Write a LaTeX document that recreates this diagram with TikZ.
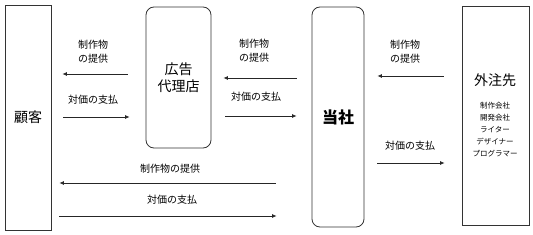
\documentclass[tikz,border=0pt]{standalone}
\usepackage{fontspec}
\newfontfamily\jpfont{Noto Sans CJK JP}
\usepackage{tikz}
\usetikzlibrary{arrows.meta}

\begin{document}
\begin{tikzpicture}[
    x=1pt, y=-1pt,
    party/.style={rectangle, draw=black!80, line width=0.8pt, inner sep=0pt, align=center, font=\jpfont\fontsize{14}{17}\selectfont},
    roundparty/.style={party, rounded corners=8pt},
    flowlabel/.style={inner sep=0pt, align=center, font=\jpfont\fontsize{10}{14}\selectfont},
    arrow/.style={-{Latex[length=4.5pt,width=4pt]}, line width=0.8pt, draw=black!85}
]
\useasboundingbox (0,0) rectangle (533,235);

% Parties
\node[party, minimum width=46pt, minimum height=225pt] (client) at (28,117.5) {顧客};
\node[roundparty, minimum width=65pt, minimum height=141pt] (agency) at (178.5,77.5) {広告\\代理店};
\node[roundparty, minimum width=52pt, minimum height=220pt, font=\jpfont\bfseries\fontsize{16}{19}\selectfont] (we) at (338,117) {当社};
\node[party, minimum width=67pt, minimum height=219pt] (vendor) at (495.5,115.5) {};
\node[inner sep=0pt, font=\jpfont\fontsize{14}{17}\selectfont] (vendor_title) at (495,80) {外注先};
\node[inner sep=0pt, align=center, font=\jpfont\fontsize{7.5}{12}\selectfont] (vendor_list) at (495,129.5) {制作会社\\開発会社\\ライター\\デザイナー\\プログラマー};

% Flow levels
\coordinate (r1) at (0,74);
\coordinate (r2) at (0,117);
\coordinate (r3) at (0,78);
\coordinate (r4) at (0,116);
\coordinate (r5) at (0,183);
\coordinate (r6) at (0,216);
\coordinate (r7) at (0,76);
\coordinate (r8) at (0,163);

% Labels
\node[flowlabel] (deliver_a) at (93,52) {制作物\\の提供};
\node[flowlabel] (pay_a) at (93,100) {対価の支払};
\node[flowlabel] (deliver_b) at (254,51) {制作物\\の提供};
\node[flowlabel] (pay_b) at (256,97) {対価の支払};
\node[flowlabel] (deliver_c) at (170,169) {制作物の提供};
\node[flowlabel] (pay_c) at (172,200) {対価の支払};
\node[flowlabel] (deliver_d) at (405,52) {制作物\\の提供};
\node[flowlabel] (pay_d) at (410,146) {対価の支払};

% Connectors
\draw[arrow, shorten <=18pt, shorten >=11pt] (agency.west |- r1) -- (client.east |- r1);
\draw[arrow, shorten <=12pt, shorten >=16pt] (client.east |- r2) -- (agency.west |- r2);
\draw[arrow, shorten <=15pt, shorten >=12pt] (we.west |- r3) -- (agency.east |- r3);
\draw[arrow, shorten <=14pt, shorten >=15pt] (agency.east |- r4) -- (we.west |- r4);
\draw[arrow, shorten <=36pt, shorten >=8pt] (we.west |- r5) -- (client.east |- r5);
\draw[arrow, shorten <=8pt, shorten >=35pt] (client.east |- r6) -- (we.west |- r6);
\draw[arrow, shorten <=18pt, shorten >=13pt] (vendor.west |- r7) -- (we.east |- r7);
\draw[arrow, shorten <=13pt, shorten >=17pt] (we.east |- r8) -- (vendor.west |- r8);

\end{tikzpicture}
\end{document}
